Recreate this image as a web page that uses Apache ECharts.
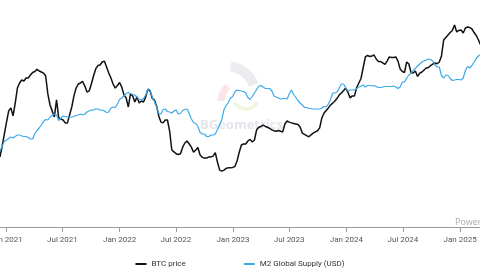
<!DOCTYPE html>
<html>
<head>
<meta charset="utf-8">
<script src="https://cdn.jsdelivr.net/npm/echarts@6/dist/echarts.min.js"></script>
<style>
  html, body { margin: 0; padding: 0; background: #fff; }
  #chart { width: 480px; height: 270px; }
</style>
</head>
<body>
<div id="chart"></div>
<script>
// weekly samples, the first one is 12 Dec 2020
const startDate = Date.UTC(2020, 11, 12);
const endDate = Date.UTC(2025, 2, 6);

// BTC price, thousand USD (log axis)
const btcPrice = [
    21.9, 24.8, 28.5, 32.7, 37.2, 38.5, 35.1, 40.7, 48.4, 51.3,
    53.1, 52.5, 54.3, 54.3, 56.2, 57.9, 58.5, 60.0, 58.9, 58.2,
    57.5, 55.6, 45.2, 39.8, 37.2, 34.7, 42.2, 34.3, 33.9, 33.5,
    32.4, 32.4, 35.5, 38.9, 44.2, 48.4, 50.7, 51.3, 52.2, 49.5,
    46.2, 46.8, 50.7, 55.6, 60.3, 62.7, 63.1, 65.3, 66.0, 61.7,
    57.5, 54.3, 50.7, 48.4, 49.8, 51.6, 48.9, 44.7, 43.2, 38.9,
    45.2, 44.2, 41.2, 43.7, 40.7, 41.7, 41.2, 43.7, 47.8, 46.8,
    43.0, 42.2, 39.3, 35.1, 32.7, 32.4, 33.5, 33.5, 29.5, 23.7,
    23.2, 22.7, 22.5, 22.7, 24.5, 25.7, 26.3, 25.4, 24.5, 23.1,
    23.7, 24.4, 22.4, 21.8, 21.6, 21.6, 21.9, 21.9, 22.1, 23.0,
    20.6, 18.8, 18.6, 18.8, 19.2, 19.3, 19.3, 19.4, 19.6, 20.9,
    23.1, 25.1, 25.4, 25.4, 26.3, 26.8, 26.0, 26.6, 29.9, 30.8,
    31.1, 31.6, 31.1, 30.8, 30.4, 29.9, 29.6, 29.4, 29.7, 29.4,
    29.2, 32.0, 33.1, 32.7, 32.4, 32.2, 32.0, 31.8, 30.9, 28.8,
    28.4, 28.0, 27.6, 28.2, 28.8, 29.2, 29.6, 30.6, 34.3, 36.3,
    37.4, 38.5, 39.8, 40.7, 41.7, 43.0, 44.7, 45.7, 47.0, 48.4,
    46.0, 43.2, 44.2, 44.2, 48.7, 51.3, 54.0, 61.3, 69.2, 70.4,
    69.6, 70.0, 70.8, 67.6, 65.6, 65.6, 64.6, 63.5, 66.0, 69.2,
    68.8, 68.8, 69.2, 66.0, 60.3, 58.5, 57.9, 65.3, 63.8, 57.9,
    57.5, 58.9, 55.3, 57.5, 58.2, 59.6, 61.0, 61.3, 62.7, 63.8,
    64.6, 64.0, 65.3, 70.0, 84.1, 86.6, 89.1, 91.7, 93.9, 100,
    92.3, 93.9, 94.4, 91.2, 96.6, 97.7, 97.1, 95.5, 91.7, 88.6,
    84.1, 79.4
];

// M2 global supply, trillion USD
const m2Supply = [
    92.6, 93.1, 93.55, 93.7, 93.85, 94.0, 93.9, 94.05, 94.2, 94.2,
    94.1, 94.05, 94.05, 93.95, 93.8, 93.8, 94.35, 94.65, 94.9, 95.2,
    95.55, 95.75, 95.7, 96.0, 96.15, 96.3, 96.2, 95.65, 95.9, 96.1,
    96.05, 96.0, 96.0, 96.0, 96.05, 96.15, 96.2, 96.3, 96.2, 96.3,
    96.5, 96.6, 96.7, 96.7, 96.8, 96.8, 96.7, 96.7, 96.6, 96.45,
    96.5, 96.9, 97.0, 96.95, 97.3, 97.75, 97.9, 98.15, 98.35, 98.45,
    98.35, 98.25, 98.2, 98.0, 97.75, 97.7, 97.85, 98.2, 98.8, 98.7,
    98.0, 97.55, 97.0, 96.35, 96.3, 96.75, 96.8, 96.55, 96.5, 96.4,
    96.6, 96.7, 96.3, 96.35, 96.65, 96.75, 96.8, 96.35, 95.8, 95.45,
    95.35, 95.05, 94.45, 94.3, 94.3, 94.05, 94.05, 94.2, 94.2, 94.3,
    94.75, 95.25, 95.75, 96.75, 97.15, 97.45, 97.9, 98.05, 98.5, 98.7,
    98.65, 98.6, 98.55, 98.4, 97.95, 97.75, 98.05, 98.4, 98.75, 99.1,
    99.15, 99.0, 98.85, 98.85, 98.85, 98.6, 98.1, 98.0, 97.9, 97.8,
    97.85, 97.85, 97.8, 98.3, 98.7, 98.25, 97.95, 97.65, 97.4, 97.2,
    96.95, 96.95, 96.85, 96.85, 96.8, 96.8, 96.8, 96.8, 96.9, 97.05,
    97.0, 97.3, 97.75, 98.4, 98.4, 98.5, 98.9, 99.3, 99.3, 98.9,
    98.6, 98.7, 98.7, 98.7, 98.85, 99.0, 99.1, 99.2, 99.0, 99.15,
    99.15, 99.1, 99.15, 99.05, 98.95, 98.95, 99.0, 99.05, 99.05, 99.05,
    99.05, 99.1, 99.0, 98.85, 99.0, 99.5, 99.5, 99.9, 100.2, 100.35,
    100.65, 100.85, 101.1, 101.3, 101.5, 101.6, 101.7, 101.8, 101.75, 101.6,
    101.2, 101.0, 101.0, 100.15, 99.9, 100.2, 100.15, 99.85, 99.65, 99.7,
    99.75, 99.75, 99.7, 99.9, 100.65, 101.05, 100.9, 101.15, 101.5, 101.85,
    102.1, 102.25
];

const tickDates = ['2021-01-01', '2021-07-01', '2022-01-01', '2022-07-01', '2023-01-01',
    '2023-07-01', '2024-01-01', '2024-07-01', '2025-01-01'];
const tickLabels = ['Jan 2021', 'Jul 2021', 'Jan 2022', 'Jul 2022', 'Jan 2023',
    'Jul 2023', 'Jan 2024', 'Jul 2024', 'Jan 2025'];

// x positions are timestamps (ms) on a plain value axis
const weeks = btcPrice.map((_, i) => startDate + i * 7 * 86400000);
const tickValues = tickDates.map(d => Date.parse(d));

const chart = echarts.init(document.getElementById('chart'));
const option = {
    animation: false,
    backgroundColor: '#fff',
    textStyle: { fontFamily: 'Roboto' },
    grid: { left: 0, right: 0, top: 10, bottom: 43, outerBoundsMode: 'none' },
    legend: {
        top: 255,
        left: 'center',
        itemGap: 58,
        itemWidth: 11,
        itemHeight: 2,
        icon: 'rect',
        textStyle: { fontSize: 8, color: '#333' },
        data: ['BTC price', 'M2 Global Supply (USD)']
    },
    graphic: [
        // faint watermark logo behind the lines
        {
            type: 'arc', z: -10, silent: true,
            shape: { cx: 226, cy: 96, r: 30, startAngle: -Math.PI * 0.45, endAngle: -Math.PI * 0.12 },
            style: { stroke: '#eaecef', lineWidth: 10, fill: null }
        },
        {
            type: 'arc', z: -10, silent: true,
            shape: { cx: 240, cy: 101, r: 19, startAngle: -Math.PI, endAngle: -Math.PI * 0.72 },
            style: { stroke: '#fce5e7', lineWidth: 7, fill: null }
        },
        {
            type: 'arc', z: -10, silent: true,
            shape: { cx: 246, cy: 96, r: 13, startAngle: Math.PI * 0.15, endAngle: Math.PI * 0.85 },
            style: { stroke: '#f0f6df', lineWidth: 4, fill: null }
        },
        {
            type: 'text', z: -10, silent: true, left: 200, top: 119,
            style: { text: 'BGeometrics', fill: '#e4e6eb', font: 'bold 13px Open Sans' }
        },
        {
            type: 'text', z: 10, silent: true, left: 455, top: 218,
            style: { text: 'Powered by BGeometrics', fill: '#aaa', font: '9px Open Sans' }
        }
    ],
    xAxis: {
        type: 'value',
        min: startDate,
        max: endDate,
        splitLine: { show: false },
        axisLine: { lineStyle: { color: '#9a9a9a', width: 1 } },
        axisTick: { show: true, length: 5, customValues: tickValues, lineStyle: { color: '#9a9a9a' } },
        axisLabel: {
            customValues: tickValues,
            color: '#555',
            fontSize: 8,
            margin: 9,
            formatter: function (val) {
                let best = 0;
                tickValues.forEach((t, i) => {
                    if (Math.abs(t - val) < Math.abs(tickValues[best] - val)) best = i;
                });
                return tickLabels[best];
            }
        }
    },
    yAxis: [
        { type: 'log', min: 9.77, max: 118.85, show: false, splitLine: { show: false } },
        { type: 'value', min: 85, max: 106.7, show: false, splitLine: { show: false } }
    ],
    series: [
        {
            name: 'BTC price',
            type: 'line',
            yAxisIndex: 0,
            showSymbol: false,
            symbol: 'none',
            color: '#111',
            lineStyle: { width: 1.5, color: '#111' },
            data: weeks.map((t, i) => [t, btcPrice[i]])
        },
        {
            name: 'M2 Global Supply (USD)',
            type: 'line',
            yAxisIndex: 1,
            showSymbol: false,
            symbol: 'none',
            color: '#3ca9e9',
            lineStyle: { width: 1.2, color: '#3ca9e9' },
            data: weeks.map((t, i) => [t, m2Supply[i]])
        }
    ]
};
chart.setOption(option);
</script>
</body>
</html>
